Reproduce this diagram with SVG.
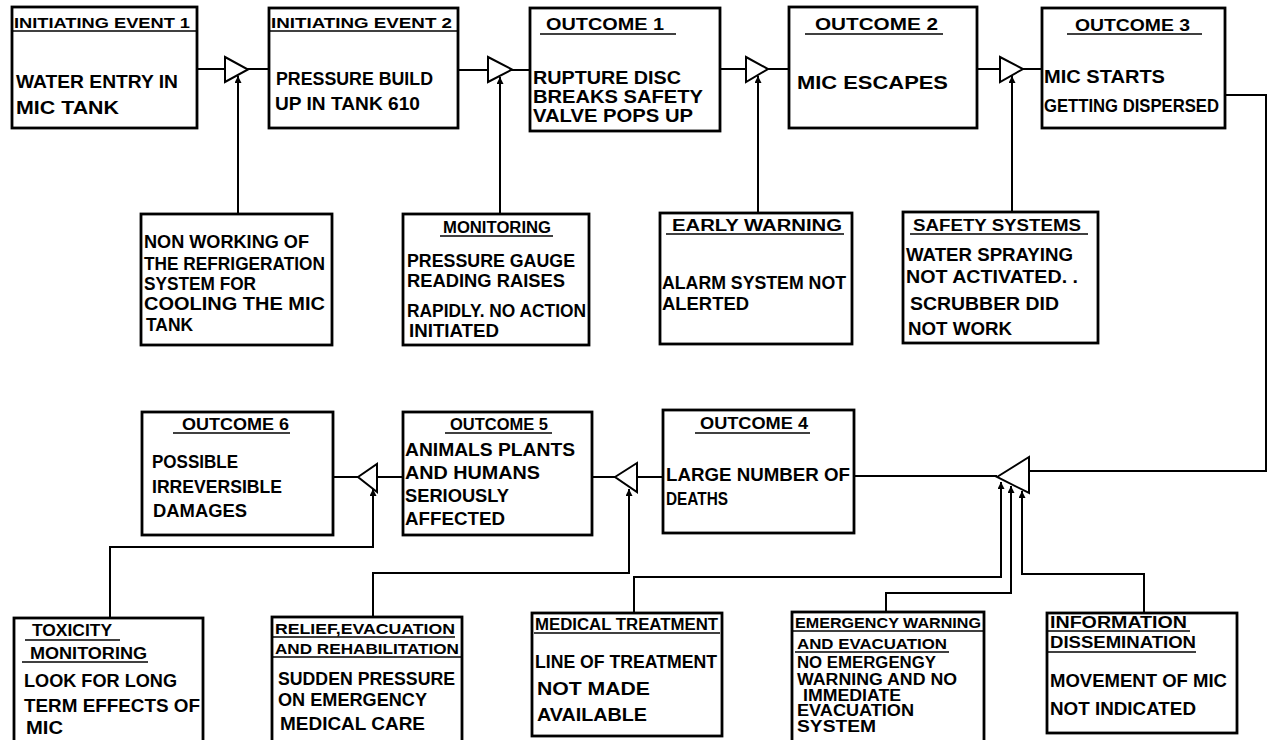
<svg xmlns="http://www.w3.org/2000/svg" width="1274" height="740" viewBox="0 0 1274 740">
<style>
.box{fill:#fff;stroke:#000;stroke-width:2.8}
.w{fill:none;stroke:#000;stroke-width:2}
.gate{fill:#fff;stroke:#000;stroke-width:2;stroke-linejoin:miter}
.t{font-family:"Liberation Sans",Arial,sans-serif;font-weight:bold;font-size:19px;fill:#000}
.h{font-size:15px}
.s{font-size:16px}
.u{stroke:#000;stroke-width:1.6}
</style>
<defs>
<marker id="ar" viewBox="0 0 8 8" refX="8" refY="4" markerWidth="7" markerHeight="7" markerUnits="userSpaceOnUse" orient="auto">
<path d="M0,0 L8,4 L0,8 z" fill="#000"/>
</marker>
</defs>
<rect width="1274" height="740" fill="#fff"/>

<g id="connectors">
<path class="w" d="M197,69 H269"/>
<path class="w" d="M458,70 H530"/>
<path class="w" d="M720,69 H789"/>
<path class="w" d="M977,69 H1042"/>
<path class="w" d="M238,214 V76" marker-end="url(#ar)"/>
<path class="w" d="M500,214 V77" marker-end="url(#ar)"/>
<path class="w" d="M758,213 V76" marker-end="url(#ar)"/>
<path class="w" d="M1012,212 V76" marker-end="url(#ar)"/>
<path class="w" d="M1225,95 H1266 V471 H1029"/>
<path class="w" d="M997,476 H854"/>
<path class="w" d="M663,477 H592"/>
<path class="w" d="M403,477 H333"/>
<path class="w" d="M634,613 V577 H1001 V482" marker-end="url(#ar)"/>
<path class="w" d="M886,612 V593 H1011 V486" marker-end="url(#ar)"/>
<path class="w" d="M1144,613 V574 H1022 V491" marker-end="url(#ar)"/>
<path class="w" d="M373,617 V573 H629 V489" marker-end="url(#ar)"/>
<path class="w" d="M110,618 V547 H373 V489" marker-end="url(#ar)"/>
</g>

<g id="gate1"><path class="gate" d="M225,57 L248,69.5 L225,82 Z"/></g>
<g id="gate2"><path class="gate" d="M488,57 L512,69.5 L488,82 Z"/></g>
<g id="gate3"><path class="gate" d="M746,57 L768,69 L746,82 Z"/></g>
<g id="gate4"><path class="gate" d="M1000,57 L1023,69 L1000,82 Z"/></g>
<g id="gate5"><path class="gate" d="M997,477 L1029,457 L1029,493 Z"/></g>
<g id="gate6"><path class="gate" d="M615,477 L637,463 L637,492 Z"/></g>
<g id="gate7"><path class="gate" d="M358,477 L377,464 L377,492 Z"/></g>

<g id="initiating-event-1">
<rect class="box" x="12" y="7" width="185" height="121"/>
<text class="t h" x="14" y="28" textLength="176" lengthAdjust="spacingAndGlyphs">INITIATING EVENT  1</text>
<line class="u" x1="12" y1="31" x2="197" y2="31"/>
<text class="t" x="16" y="88" textLength="162" lengthAdjust="spacingAndGlyphs">WATER ENTRY  IN</text>
<text class="t" x="16" y="114" textLength="103" lengthAdjust="spacingAndGlyphs">MIC  TANK</text>
</g>

<g id="initiating-event-2">
<rect class="box" x="269" y="8" width="189" height="120"/>
<text class="t h" x="271" y="28" textLength="181" lengthAdjust="spacingAndGlyphs">INITIATING EVENT  2</text>
<line class="u" x1="269" y1="31" x2="458" y2="31"/>
<text class="t" x="276" y="85" textLength="157" lengthAdjust="spacingAndGlyphs">PRESSURE BUILD</text>
<text class="t" x="275" y="110" textLength="145" lengthAdjust="spacingAndGlyphs">UP IN TANK  610</text>
</g>

<g id="outcome-1">
<rect class="box" x="530" y="8" width="190" height="123"/>
<text class="t s" x="546" y="30" textLength="118" lengthAdjust="spacingAndGlyphs">OUTCOME  1</text>
<line class="u" x1="540" y1="34" x2="676" y2="34"/>
<text class="t" x="533" y="84" textLength="148" lengthAdjust="spacingAndGlyphs">RUPTURE  DISC</text>
<text class="t" x="533" y="103" textLength="170" lengthAdjust="spacingAndGlyphs">BREAKS  SAFETY</text>
<text class="t" x="533" y="122" textLength="160" lengthAdjust="spacingAndGlyphs">VALVE  POPS  UP</text>
</g>

<g id="outcome-2">
<rect class="box" x="789" y="7" width="188" height="121"/>
<text class="t s" x="815" y="30" textLength="123" lengthAdjust="spacingAndGlyphs">OUTCOME  2</text>
<line class="u" x1="805" y1="34" x2="943" y2="34"/>
<text class="t" x="797" y="89" textLength="151" lengthAdjust="spacingAndGlyphs">MIC  ESCAPES</text>
</g>

<g id="outcome-3">
<rect class="box" x="1042" y="8" width="183" height="120"/>
<text class="t s" x="1075" y="31" textLength="115" lengthAdjust="spacingAndGlyphs">OUTCOME  3</text>
<line class="u" x1="1067" y1="34" x2="1202" y2="34"/>
<text class="t" x="1044" y="83" textLength="121" lengthAdjust="spacingAndGlyphs">MIC STARTS</text>
<text class="t" x="1044" y="112" textLength="175" lengthAdjust="spacingAndGlyphs">GETTING DISPERSED</text>
</g>

<g id="refrigeration">
<rect class="box" x="141" y="214" width="191" height="131"/>
<text class="t" x="144" y="248" textLength="165" lengthAdjust="spacingAndGlyphs">NON WORKING  OF</text>
<text class="t" x="144" y="270" textLength="181" lengthAdjust="spacingAndGlyphs">THE REFRIGERATION</text>
<text class="t" x="144" y="290" textLength="112" lengthAdjust="spacingAndGlyphs">SYSTEM FOR</text>
<text class="t" x="144" y="310" textLength="181" lengthAdjust="spacingAndGlyphs">COOLING THE  MIC</text>
<text class="t" x="146" y="331" textLength="47" lengthAdjust="spacingAndGlyphs">TANK</text>
</g>

<g id="monitoring">
<rect class="box" x="403" y="214" width="186" height="131"/>
<text class="t s" x="443" y="233" textLength="108" lengthAdjust="spacingAndGlyphs">MONITORING</text>
<line class="u" x1="440" y1="236" x2="553" y2="236"/>
<text class="t" x="407" y="267" textLength="168" lengthAdjust="spacingAndGlyphs">PRESSURE  GAUGE</text>
<text class="t" x="407" y="287" textLength="158" lengthAdjust="spacingAndGlyphs">READING  RAISES</text>
<text class="t" x="407" y="317" textLength="179" lengthAdjust="spacingAndGlyphs">RAPIDLY. NO ACTION</text>
<text class="t" x="409" y="337" textLength="90" lengthAdjust="spacingAndGlyphs">INITIATED</text>
</g>

<g id="early-warning">
<rect class="box" x="660" y="213" width="192" height="131"/>
<text class="t s" x="672" y="231" textLength="170" lengthAdjust="spacingAndGlyphs">EARLY  WARNING</text>
<line class="u" x1="666" y1="234" x2="844" y2="234"/>
<text class="t" x="662" y="289" textLength="184" lengthAdjust="spacingAndGlyphs">ALARM SYSTEM NOT</text>
<text class="t" x="662" y="310" textLength="87" lengthAdjust="spacingAndGlyphs">ALERTED</text>
</g>

<g id="safety-systems">
<rect class="box" x="903" y="212" width="195" height="131"/>
<text class="t s" x="913" y="231" textLength="168" lengthAdjust="spacingAndGlyphs">SAFETY  SYSTEMS</text>
<line class="u" x1="910" y1="234" x2="1088" y2="234"/>
<text class="t" x="906" y="261" textLength="167" lengthAdjust="spacingAndGlyphs">WATER SPRAYING</text>
<text class="t" x="906" y="283" textLength="172" lengthAdjust="spacingAndGlyphs">NOT ACTIVATED. .</text>
<text class="t" x="910" y="310" textLength="149" lengthAdjust="spacingAndGlyphs">SCRUBBER  DID</text>
<text class="t" x="908" y="335" textLength="104" lengthAdjust="spacingAndGlyphs">NOT  WORK</text>
</g>

<g id="outcome-4">
<rect class="box" x="663" y="410" width="191" height="123"/>
<text class="t s" x="700" y="429" textLength="108" lengthAdjust="spacingAndGlyphs">OUTCOME  4</text>
<line class="u" x1="695" y1="433" x2="810" y2="433"/>
<text class="t" x="666" y="481" textLength="184" lengthAdjust="spacingAndGlyphs">LARGE NUMBER  OF</text>
<text class="t" x="666" y="505" textLength="62" lengthAdjust="spacingAndGlyphs">DEATHS</text>
</g>

<g id="outcome-5">
<rect class="box" x="403" y="412" width="189" height="123"/>
<text class="t s" x="450" y="430" textLength="98" lengthAdjust="spacingAndGlyphs">OUTCOME  5</text>
<line class="u" x1="445" y1="433" x2="552" y2="433"/>
<text class="t" x="405" y="456" textLength="170" lengthAdjust="spacingAndGlyphs">ANIMALS  PLANTS</text>
<text class="t" x="405" y="479" textLength="135" lengthAdjust="spacingAndGlyphs">AND  HUMANS</text>
<text class="t" x="405" y="502" textLength="104" lengthAdjust="spacingAndGlyphs">SERIOUSLY</text>
<text class="t" x="405" y="525" textLength="100" lengthAdjust="spacingAndGlyphs">AFFECTED</text>
</g>

<g id="outcome-6">
<rect class="box" x="142" y="412" width="191" height="123"/>
<text class="t s" x="182" y="430" textLength="107" lengthAdjust="spacingAndGlyphs">OUTCOME  6</text>
<line class="u" x1="173" y1="433" x2="290" y2="433"/>
<text class="t" x="152" y="468" textLength="86" lengthAdjust="spacingAndGlyphs">POSSIBLE</text>
<text class="t" x="152" y="493" textLength="130" lengthAdjust="spacingAndGlyphs">IRREVERSIBLE</text>
<text class="t" x="153" y="517" textLength="94" lengthAdjust="spacingAndGlyphs">DAMAGES</text>
</g>

<g id="toxicity-monitoring">
<rect class="box" x="14" y="618" width="189" height="126"/>
<text class="t s" x="32" y="636" textLength="80" lengthAdjust="spacingAndGlyphs">TOXICITY</text>
<line class="u" x1="25" y1="640" x2="120" y2="640"/>
<text class="t s" x="30" y="659" textLength="117" lengthAdjust="spacingAndGlyphs">MONITORING</text>
<line class="u" x1="22" y1="662" x2="148" y2="662"/>
<text class="t" x="24" y="687" textLength="153" lengthAdjust="spacingAndGlyphs">LOOK FOR LONG</text>
<text class="t" x="24" y="712" textLength="176" lengthAdjust="spacingAndGlyphs">TERM EFFECTS OF</text>
<text class="t" x="26" y="734" textLength="37" lengthAdjust="spacingAndGlyphs">MIC</text>
</g>

<g id="relief">
<rect class="box" x="272" y="617" width="190" height="127"/>
<text class="t h" x="275" y="634" textLength="180" lengthAdjust="spacingAndGlyphs">RELIEF,EVACUATION</text>
<line class="u" x1="272" y1="637" x2="455" y2="637"/>
<text class="t h" x="275" y="654" textLength="184" lengthAdjust="spacingAndGlyphs">AND REHABILITATION</text>
<line class="u" x1="272" y1="657" x2="462" y2="657"/>
<text class="t" x="278" y="685" textLength="177" lengthAdjust="spacingAndGlyphs">SUDDEN PRESSURE</text>
<text class="t" x="278" y="706" textLength="149" lengthAdjust="spacingAndGlyphs">ON EMERGENCY</text>
<text class="t" x="280" y="730" textLength="145" lengthAdjust="spacingAndGlyphs">MEDICAL CARE</text>
</g>

<g id="medical-treatment">
<rect class="box" x="532" y="613" width="190" height="123"/>
<text class="t s" x="535" y="630" textLength="183" lengthAdjust="spacingAndGlyphs">MEDICAL TREATMENT</text>
<line class="u" x1="534" y1="633" x2="720" y2="633"/>
<text class="t" x="535" y="668" textLength="182" lengthAdjust="spacingAndGlyphs">LINE OF TREATMENT</text>
<text class="t" x="537" y="695" textLength="113" lengthAdjust="spacingAndGlyphs">NOT  MADE</text>
<text class="t" x="537" y="721" textLength="110" lengthAdjust="spacingAndGlyphs">AVAILABLE</text>
</g>

<g id="emergency-warning">
<rect class="box" x="792" y="612" width="192" height="130"/>
<text class="t h" x="795" y="628" textLength="186" lengthAdjust="spacingAndGlyphs">EMERGENCY WARNING</text>
<line class="u" x1="792" y1="631" x2="984" y2="631"/>
<text class="t h" x="797" y="649" textLength="150" lengthAdjust="spacingAndGlyphs">AND EVACUATION</text>
<line class="u" x1="795" y1="652" x2="949" y2="652"/>
<text class="t s" x="797" y="668" textLength="139" lengthAdjust="spacingAndGlyphs">NO EMERGENGY</text>
<text class="t s" x="797" y="685" textLength="160" lengthAdjust="spacingAndGlyphs">WARNING AND NO</text>
<text class="t s" x="803" y="701" textLength="98" lengthAdjust="spacingAndGlyphs">IMMEDIATE</text>
<text class="t s" x="797" y="716" textLength="117" lengthAdjust="spacingAndGlyphs">EVACUATION</text>
<text class="t s" x="797" y="732" textLength="79" lengthAdjust="spacingAndGlyphs">SYSTEM</text>
</g>

<g id="information-dissemination">
<rect class="box" x="1047" y="613" width="190" height="120"/>
<text class="t s" x="1050" y="628" textLength="137" lengthAdjust="spacingAndGlyphs">INFORMATION</text>
<line class="u" x1="1048" y1="631" x2="1190" y2="631"/>
<text class="t s" x="1050" y="648" textLength="146" lengthAdjust="spacingAndGlyphs">DISSEMINATION</text>
<line class="u" x1="1048" y1="652" x2="1196" y2="652"/>
<text class="t" x="1050" y="687" textLength="177" lengthAdjust="spacingAndGlyphs">MOVEMENT OF MIC</text>
<text class="t" x="1050" y="715" textLength="146" lengthAdjust="spacingAndGlyphs">NOT  INDICATED</text>
</g>
</svg>
